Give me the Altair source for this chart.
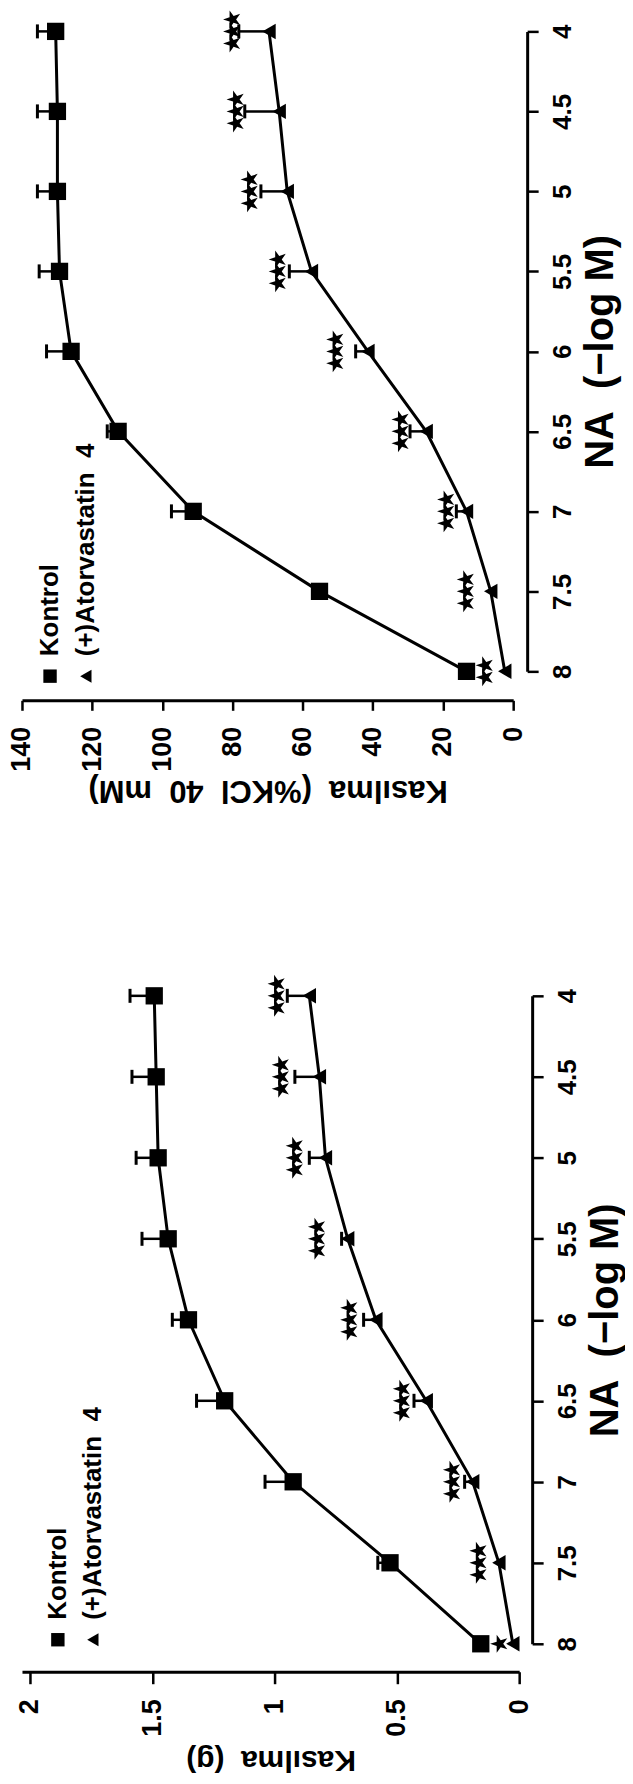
import altair as alt
import pandas as pd

# NA concentrations (-log M)
na = [8, 7.5, 7, 6.5, 6, 5.5, 5, 4.5, 4]
na_ticks = [4, 4.5, 5, 5.5, 6, 6.5, 7, 7.5, 8]

# upper panel: Kasilma (% KCl 40 mM)
kcl_kontrol = [13.3, 55.2, 91.2, 112.6, 126.0, 129.3, 129.9, 129.9, 130.4]
kcl_kontrol_err = [0.0, 1.5, 6.2, 3.1, 7.0, 5.8, 5.7, 5.7, 5.2]
kcl_ator = [2.4, 6.4, 13.3, 24.8, 41.4, 57.5, 64.4, 66.7, 69.6]
kcl_ator_err = [0.0, 0.0, 2.9, 4.6, 3.5, 6.3, 7.5, 9.8, 8.6]
kcl_star_pos = [8.0, 13.4, 19.0, 32.0, 50.6, 67.0, 75.0, 79.0, 80.0]
kcl_star_n = [2, 3, 3, 3, 3, 3, 3, 3, 3]
kcl_ticks = [0, 20, 40, 60, 80, 100, 120, 140]

# lower panel: Kasilma (g)
g_kontrol = [0.157, 0.528, 0.924, 1.204, 1.352, 1.435, 1.476, 1.484, 1.492]
g_kontrol_err = [0.0, 0.05, 0.115, 0.115, 0.066, 0.107, 0.09, 0.099, 0.099]
g_ator = [0.026, 0.083, 0.19, 0.38, 0.586, 0.701, 0.792, 0.817, 0.858]
g_ator_err = [0.0, 0.0, 0.033, 0.05, 0.05, 0.025, 0.066, 0.1, 0.09]
g_star_pos = [0.08, 0.165, 0.273, 0.478, 0.693, 0.825, 0.916, 0.973, 0.99]
g_star_n = [1, 3, 3, 3, 3, 3, 3, 3, 3]
g_ticks = [0, 0.5, 1, 1.5, 2]

series_names = ["Kontrol", "(+)Atorvastatin\u00a0\u00a04"]

NARROW = "Liberation Sans Narrow, Arial Narrow, Liberation Sans, sans-serif"
WIDE = "Liberation Sans, Arial, sans-serif"
STAR = ("M0,-1L0.2245,-0.309L0.951,-0.309L0.363,0.118L0.588,0.809L0,0.382"
        "L-0.588,0.809L-0.363,0.118L-0.951,-0.309L-0.2245,-0.309Z")
STAR_GAP = 12


def panel(kon, kon_err, ato, ato_err, star_pos, star_n, xticks, xmax, w, h,
          xtitle, xtitle_size, leg_vals, leg_na,
          y_off, x_off, x_tick, x_pad, x_title_pad):
    rows = []
    for n, v, e in zip(na, kon, kon_err):
        rows.append({"na": n, "value": v, "hi": v + e, "err": e, "series": "K"})
    for n, v, e in zip(na, ato, ato_err):
        rows.append({"na": n, "value": v, "hi": v + e, "err": e, "series": "A"})
    df = pd.DataFrame(rows)
    err_df = df[df["err"] > 0].copy()
    cap_df = err_df.assign(value=err_df["hi"])

    star_rows = []
    for n, p, k in zip(na, star_pos, star_n):
        for i in range(k):
            star_rows.append({"na": n, "value": p,
                              "off": (i - (k - 1) / 2) * STAR_GAP})
    star_df = pd.DataFrame(star_rows)
    leg_df = pd.DataFrame({"na": leg_na, "value": leg_vals,
                           "label": series_names, "series": ["K", "A"]})

    x_axis = alt.Axis(
        values=xticks, labelExpr="'' + datum.value", orient="bottom",
        offset=x_off,
        title=xtitle, titleAngle=180, titleBaseline="bottom",
        titleFont=WIDE, titleFontSize=xtitle_size, titleFontWeight="bold",
        titlePadding=x_title_pad, titleColor="black",
        labelAngle=270, labelFont=NARROW, labelFontSize=27,
        labelFontWeight="bold", labelPadding=x_pad, labelColor="black",
        tickSize=x_tick, tickWidth=2.5, tickColor="black",
        domainWidth=3, domainColor="black", grid=False,
    )
    y_axis = alt.Axis(
        values=na_ticks, format="~g", orient="right", offset=y_off,
        title="NA\u00a0\u00a0(−log M)", titleAngle=270,
        titleAlign="center", titleBaseline="top", titlePadding=5,
        titleColor="black",
        titleFont=NARROW, titleFontSize=40, titleFontWeight="bold",
        labelAngle=270, labelFont=NARROW, labelFontSize=26,
        labelFontWeight="bold", labelPadding=11, labelColor="black",
        tickSize=11, tickWidth=2.5, tickColor="black",
        domainWidth=3, domainColor="black", grid=False,
    )
    xs = alt.Scale(domain=[0, xmax], reverse=True, nice=False, zero=False)
    ys = alt.Scale(domain=[4, 8], reverse=True, nice=False, zero=False)
    X = alt.X("value:Q", scale=xs, axis=x_axis)
    Y = alt.Y("na:Q", scale=ys, axis=y_axis)

    layers = []
    layers.append(alt.Chart(df).mark_line(color="black", strokeWidth=3).encode(
        x=X, y=Y, detail="series:N", order=alt.Order("na:Q")))
    layers.append(alt.Chart(err_df).mark_rule(
        color="black", strokeWidth=2.5).encode(x=X, x2=alt.X2("hi:Q"), y=Y))
    layers.append(alt.Chart(cap_df).mark_rule(
        color="black", strokeWidth=3, yOffset=-7, y2Offset=7).encode(
        x=X, y=Y, y2=alt.Y2("na:Q")))
    layers.append(alt.Chart(df[df["series"] == "K"]).mark_square(
        color="black", size=300, opacity=1).encode(x=X, y=Y))
    layers.append(alt.Chart(df[df["series"] == "A"]).mark_point(
        shape="triangle-left", filled=True, color="black", size=240,
        opacity=1).encode(x=X, y=Y))
    for off in sorted(star_df["off"].unique()):
        sub = star_df[star_df["off"] == off]
        layers.append(alt.Chart(sub).mark_point(
            shape=STAR, filled=True, color="black", size=360, opacity=1,
            angle=270, yOffset=float(off)).encode(x=X, y=Y))
    layers.append(alt.Chart(leg_df[leg_df["series"] == "K"]).mark_square(
        color="black", size=180, opacity=1).encode(x=X, y=Y))
    layers.append(alt.Chart(leg_df[leg_df["series"] == "A"]).mark_point(
        shape="triangle-left", filled=True, color="black", size=170,
        opacity=1).encode(x=X, y=Y))
    layers.append(alt.Chart(leg_df).mark_text(
        angle=270, font=NARROW, fontSize=26, fontWeight="bold",
        color="black", align="left", baseline="middle", dx=20).encode(
        x=X, y=Y, text="label:N"))

    return alt.layer(*layers).properties(width=w, height=h)


upper = panel(kcl_kontrol, kcl_kontrol_err, kcl_ator, kcl_ator_err,
              kcl_star_pos, kcl_star_n, kcl_ticks, 140, 492, 641,
              "Kasılma\u00a0\u00a0(%KCl\u00a0\u00a040\u00a0\u00a0mM)", 31,
              [132, 121.8], [8.03, 8.03], 14, 29, 10, 16, 2)

lower = panel(g_kontrol, g_kontrol_err, g_ator, g_ator_err,
              g_star_pos, g_star_n, g_ticks, 2.0327, 498, 649,
              "Kasılma\u00a0\u00a0(g)", 30,
              [1.886, 1.743], [7.975, 7.975], 13, 28, 12, 15, 8)

chart = alt.vconcat(upper, lower, spacing=325, bounds="flush").properties(
    padding={"top": 0, "left": 0, "right": 0, "bottom": 0},
    background="white",
).configure_view(stroke=None)

chart.save("out.html", embed_options={"renderer": "svg", "actions": False})
